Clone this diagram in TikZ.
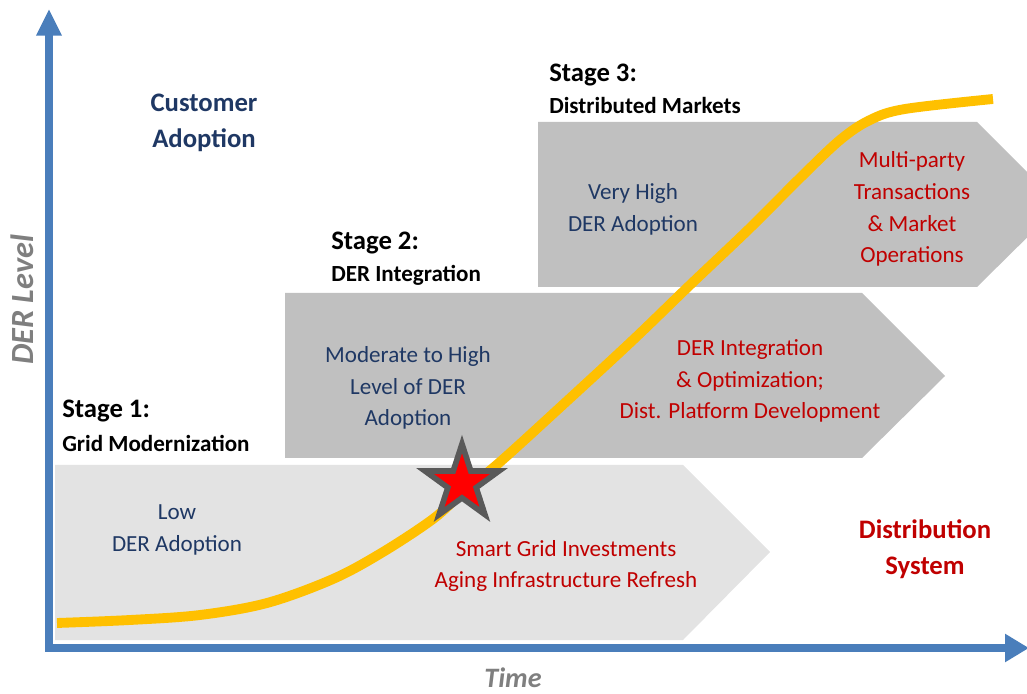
\documentclass[tikz,border=0pt]{standalone}
\usepackage{fontspec}
\setmainfont{Carlito}
\usepackage{tikz}
\usetikzlibrary{arrows.meta,shapes.geometric}
\definecolor{axisblue}{HTML}{4A7EBB}
\definecolor{txtblue}{HTML}{1F3864}
\definecolor{txtred}{HTML}{C00000}
\definecolor{curveyel}{HTML}{FFC000}
\definecolor{bandlight}{HTML}{E3E3E3}
\definecolor{banddark}{HTML}{C0C0C0}
\definecolor{labgray}{HTML}{7F7F7F}

\begin{document}
\begin{tikzpicture}[x=0.025cm,y=-0.025cm,
    bodytxt/.style={align=center,inner sep=0pt,font=\fontsize{16.4}{22.6}\selectfont},
    headtxt/.style={align=center,inner sep=0pt,font=\fontsize{19}{25.6}\selectfont\bfseries},
    stagetxt/.style={anchor=base west,inner sep=0pt,font=\fontsize{19}{22}\selectfont\bfseries},
    subtxt/.style={anchor=base west,inner sep=0pt,font=\fontsize{16.4}{22}\selectfont\bfseries},
    axislab/.style={inner sep=0pt,text=labgray,font=\fontsize{20}{24}\selectfont\bfseries\itshape}]
    \useasboundingbox (0,0) rectangle (1027,694);

    % bands
    \begin{scope}
    \clip (0,0) rectangle (1027,694);
    \fill[bandlight] (55,465) -- (683,465) -- (770,552) -- (683,640) -- (55,640) -- cycle;
    \fill[banddark] (285,293) -- (862,293) -- (945,376) -- (862,458) -- (285,458) -- cycle;
    \fill[banddark] (538,122) -- (977,122) -- (1060,205) -- (977,287) -- (538,287) -- cycle;
    \end{scope}

    % axes
    \coordinate (ytop) at (49,9);
    \coordinate (origin) at (49,648);
    \coordinate (xend) at (1029,648);
    \draw[axisblue, line width=5.7pt, line join=miter,
        {Triangle[length=19pt,width=17pt]}-{Triangle[length=17pt,width=19pt]}]
        (ytop) -- (origin) -- (xend);
    \node[axislab, rotate=90, font=\fontsize{23}{26}\selectfont\bfseries\itshape] (ylab) at (22,300) {DER Level};
    \node[axislab] (xlab) at (513,678) {Time};

    % adoption curve
    \draw[curveyel, line width=7pt, line cap=butt] plot[smooth, tension=0.55] coordinates {
        (57,623) (130,620) (200,615) (267,603) (333,579) (383,552) (433,519) (462,493)
        (500,462) (567,401) (633,340) (690,285) (750,228) (800,178) (840,140) (870,120)
        (905,109) (993,99)};

    % star
    \node[star, star points=5, star point ratio=2.618, minimum size=1.95cm, inner sep=0pt,
        fill=red, draw=black!65, line width=4pt] (star) at (462,483) {};

    % stage titles
    \node[stagetxt] (s1) at (62,418) {Stage 1:};
    \node[subtxt] (s1sub) at (62,452) {Grid Modernization};
    \node[stagetxt] (s2) at (331,250) {Stage 2:};
    \node[subtxt] (s2sub) at (331,282) {DER Integration};
    \node[stagetxt] (s3) at (549,82) {Stage 3:};
    \node[subtxt] (s3sub) at (549,114) {Distributed Markets};

    % band texts
    \node[bodytxt, text=txtblue] (low) at (177,530) {Low\\DER Adoption};
    \node[bodytxt, text=txtred] (smart) at (566,566) {Smart Grid Investments\\Aging Infrastructure Refresh};
    \node[bodytxt, text=txtblue] (moder) at (408,388) {Moderate to High\\Level of DER\\Adoption};
    \node[bodytxt, text=txtred] (integ) at (750,381) {DER Integration\\\& Optimization;\\Dist. Platform Development};
    \node[bodytxt, text=txtblue] (vhigh) at (633,209) {Very High\\DER Adoption};
    \node[bodytxt, text=txtred] (multi) at (912,209) {Multi-party\\Transactions\\\& Market\\Operations};

    % side headings
    \node[headtxt, text=txtblue] (cust) at (204,123) {Customer\\Adoption};
    \node[headtxt, text=txtred] (dist) at (925,549) {Distribution\\System};
\end{tikzpicture}
\end{document}
